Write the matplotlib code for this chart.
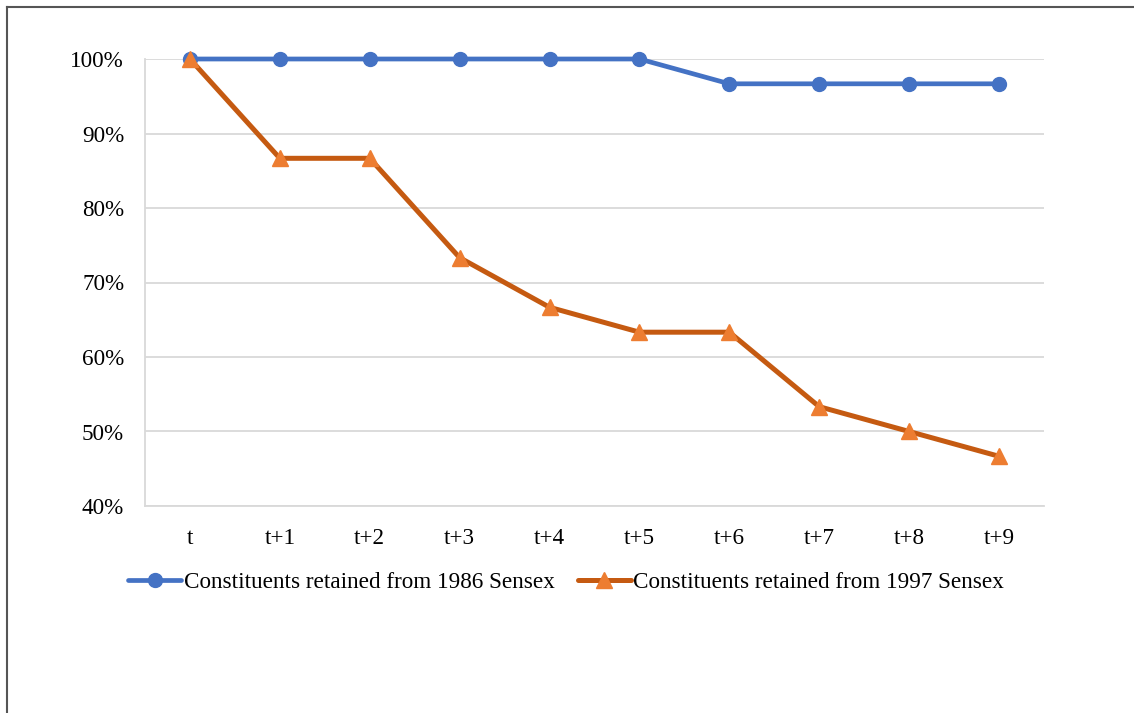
import matplotlib
matplotlib.use("Agg")
import matplotlib.pyplot as plt
from matplotlib.lines import Line2D

categories = ["t", "t+1", "t+2", "t+3", "t+4", "t+5", "t+6", "t+7", "t+8", "t+9"]
retained_1986 = [100, 100, 100, 100, 100, 100, 96.67, 96.67, 96.67, 96.67]
retained_1997 = [100, 86.67, 86.67, 73.33, 66.67, 63.33, 63.33, 53.33, 50.0, 46.67]
label_1986 = "Constituents retained from 1986 Sensex"
label_1997 = "Constituents retained from 1997 Sensex"
y_ticks = [40, 50, 60, 70, 80, 90, 100]

W, H = 1134, 713
fig = plt.figure(figsize=(W / 100, H / 100), dpi=100)
plt.rcParams["font.family"] = ["Liberation Serif", "DejaVu Serif"]
FS = 16.7

# plot area in pixel coordinates
left, right, top, bottom = 145, 1044, 59, 506
ax = fig.add_axes([left / W, 1 - bottom / H, (right - left) / W, (bottom - top) / H])

x = list(range(len(categories)))
ax.plot(x, retained_1986, color="#4472C4", lw=3.4, marker="o", ms=10,
        markerfacecolor="#4472C4", markeredgecolor="#4472C4",
        solid_capstyle="round", label=label_1986, zorder=3, clip_on=False)
ax.plot(x, retained_1997, color="#C55A11", lw=3.6, marker="^", ms=11,
        markerfacecolor="#ED7D31", markeredgecolor="#ED7D31",
        solid_capstyle="round", label=label_1997, zorder=4, clip_on=False)

ax.set_xlim(-0.5, len(categories) - 0.5)
ax.set_ylim(40, 100)
ax.set_yticks(y_ticks)
ax.set_yticklabels([f"{v}%" for v in y_ticks])
ax.set_xticks(x)
ax.set_xticklabels(categories)
ax.tick_params(axis="both", length=0, labelsize=FS, colors="black")
ax.tick_params(axis="y", pad=15)
ax.tick_params(axis="x", pad=16)
ax.grid(axis="y", color="#D9D9D9", lw=1.3)
ax.set_axisbelow(True)
for side in ["top", "right"]:
    ax.spines[side].set_visible(False)
for side in ["left", "bottom"]:
    ax.spines[side].set_color("#D9D9D9")
    ax.spines[side].set_linewidth(1.3)

leg = fig.legend(loc="center", bbox_to_anchor=(566 / W, 1 - 582 / H), ncol=2,
                 frameon=False, fontsize=FS, handlelength=2.3,
                 handletextpad=0.1, columnspacing=1.0)

# outer frame
fig.add_artist(Line2D([7 / W, 7 / W], [0, 1 - 7 / H], color="#555555", lw=1.5,
                      transform=fig.transFigure))
fig.add_artist(Line2D([7 / W, 1], [1 - 7 / H, 1 - 7 / H], color="#555555", lw=1.5,
                      transform=fig.transFigure))

fig.savefig("out.png", dpi=100, facecolor="white")
